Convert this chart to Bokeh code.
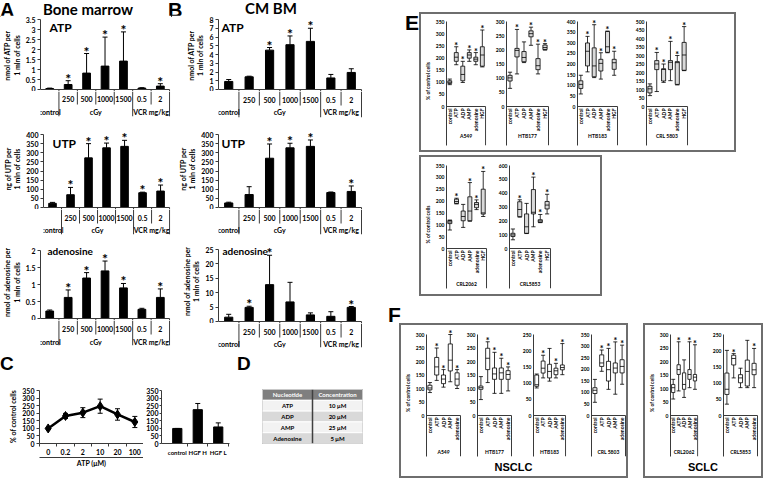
import math
from bokeh.plotting import figure
from bokeh.layouts import row, column
from bokeh.models import (Range1d, FixedTicker, Label, LinearAxis, Spacer, Div,
                          NumeralTickFormatter)
from bokeh.core.properties import value
from bokeh.embed import file_html
from bokeh.resources import INLINE

# ---------------- data: panels A / B ----------------
dose_labels = ["", "250", "500", "1000", "1500", "0.5", "2"]
dose_groups = ["control", "cGy", "cGy", "cGy", "cGy", "VCR mg/kg", "VCR mg/kg"]

bm_atp = [0.05, 0.25, 0.82, 1.17, 1.42, 0.07, 0.17]
bm_atp_err = [0.02, 0.19, 0.98, 1.45, 1.46, 0.02, 0.12]
bm_atp_sig = [0, 1, 1, 1, 1, 0, 1]
bm_utp = [23, 70, 272, 327, 335, 81, 90]
bm_utp_err = [5, 40, 78, 26, 33, 3, 33]
bm_utp_sig = [0, 1, 1, 1, 1, 1, 1]
bm_ado = [0.22, 0.62, 1.19, 1.40, 0.90, 0.27, 0.62]
bm_ado_err = [0.03, 0.22, 0.16, 0.29, 0.13, 0.03, 0.25]
bm_ado_sig = [0, 1, 1, 1, 1, 0, 1]

cm_atp = [0.92, 1.45, 4.5, 5.12, 5.5, 1.32, 1.95]
cm_atp_err = [0.22, 0.07, 0.3, 1.0, 1.5, 0.4, 0.42]
cm_atp_sig = [0, 0, 1, 1, 1, 0, 0]
cm_utp = [25, 71, 270, 327, 335, 82, 88]
cm_utp_err = [4, 43, 78, 25, 35, 3, 30]
cm_utp_sig = [0, 0, 1, 1, 1, 0, 1]
cm_ado = [1.5, 4.9, 12.8, 6.8, 2.3, 1.8, 4.9]
cm_ado_err = [1.0, 0.4, 10.2, 6.8, 0.7, 1.6, 0.3]
cm_ado_sig = [0, 1, 1, 0, 0, 0, 1]

# ---------------- data: panel C ----------------
atp_doses = ["0", "0.2", "2", "10", "20", "100"]
atp_resp = [100, 183, 205, 248, 193, 143]
atp_resp_err = [3, 17, 33, 47, 38, 37]
hgf_cats = ["control", "HGF H", "HGF L"]
hgf_resp = [100, 225, 110]
hgf_resp_err = [0, 41, 27]

# ---------------- data: panel D ----------------
d_header = ["Nucleotide", "Concentration"]
d_nucleotide = ["ATP", "ADP", "AMP", "Adenosine"]
d_concentration = ["10 \u03bcM", "20 \u03bcM", "25 \u03bcM", "5 \u03bcM"]

# ---------------- data: panels E / F (min, q1, median, q3, max) ----------------
cats_e = ["control", "ATP", "ADP", "AMP", "adenosine", "HGF"]
cats_f = ["control", "ATP", "ADP", "AMP", "adenosine"]

e_a549 = [(90, 95, 100, 106, 113), (172, 186, 203, 222, 246), (99, 106, 132, 166, 186),
          (186, 199, 212, 222, 233), (172, 186, 195, 203, 222), (163, 166, 212, 246, 315)]
e_a549_sig = [0, 1, 1, 1, 1, 1]
e_htb177 = [(64, 90, 101, 110, 121), (115, 175, 198, 205, 272), (155, 158, 173, 194, 228),
            (216, 246, 257, 267, 280), (115, 130, 144, 169, 220), (199, 201, 208, 217, 222)]
e_htb177_sig = [0, 1, 0, 1, 1, 1]
e_htb183 = [(59, 85, 104, 121, 147), (163, 191, 260, 299, 330), (136, 140, 191, 276, 385),
            (129, 167, 203, 222, 253), (253, 255, 281, 353, 355), (147, 175, 206, 222, 260)]
e_htb183_sig = [0, 1, 1, 1, 1, 1]
e_crl5803 = [(64, 80, 104, 119, 133), (88, 217, 250, 270, 318), (142, 150, 218, 222, 250),
             (152, 217, 260, 270, 383), (127, 130, 258, 264, 300), (211, 213, 303, 377, 470)]
e_crl5803_sig = [0, 1, 1, 1, 1, 1]
e_crl2062 = [(78, 105, 112, 118, 120), (188, 190, 198, 208, 212), (89, 117, 135, 158, 186),
             (115, 117, 158, 218, 278), (164, 172, 186, 194, 205), (135, 145, 150, 250, 325)]
e_crl2062_sig = [0, 1, 0, 1, 1, 1]
e_crl5853 = [(63, 87, 98, 110, 141), (227, 230, 282, 338, 352), (108, 110, 157, 250, 326),
             (157, 250, 262, 426, 516), (187, 189, 199, 208, 246), (250, 286, 314, 340, 392)]
e_crl5853_sig = [0, 1, 0, 1, 1, 1]

f_a549 = [(85, 95, 102, 112, 122), (130, 150, 180, 215, 250), (105, 118, 135, 150, 170),
          (125, 165, 205, 265, 300), (100, 112, 135, 158, 170)]
f_a549_sig = [0, 1, 1, 1, 1]
f_htb177 = [(59, 97, 103, 109, 144), (122, 170, 212, 249, 273), (82, 134, 154, 176, 234),
            (82, 134, 158, 176, 212), (91, 134, 152, 166, 180)]
f_htb177_sig = [0, 1, 1, 1, 1]
f_htb183 = [(85, 90, 95, 125, 128), (116, 131, 146, 168, 186), (106, 116, 136, 158, 207),
            (116, 126, 138, 146, 161), (126, 141, 148, 156, 222)]
f_htb183_sig = [0, 1, 0, 1, 1]
f_crl5803 = [(57, 95, 109, 120, 156), (191, 212, 227, 262, 283), (113, 149, 198, 234, 290),
             (92, 184, 205, 227, 318), (135, 184, 212, 241, 304)]
f_crl5803_sig = [0, 1, 1, 1, 1]
f_crl2062 = [(61, 85, 103, 115, 134), (91, 152, 170, 188, 273), (67, 97, 115, 158, 206),
             (103, 134, 152, 170, 273), (97, 128, 142, 152, 262)]
f_crl2062_sig = [0, 1, 0, 1, 1]
f_crl5853 = [(35, 65, 81, 131, 201), (116, 156, 176, 186, 191), (86, 101, 116, 126, 146),
             (86, 91, 136, 171, 232), (86, 126, 141, 161, 207)]
f_crl5853_sig = [0, 1, 0, 0, 1]

# ---------------- geometry helpers ----------------
SX = 763.0 / 779.0
SY = 478.0 / 486.0


def RX(v):
    return int(round(v * SX))


def RY(v):
    return int(round(v * SY))


FONT = "Lato"
LETTER_FONT = "Liberation Sans"
AXIS_C = "#3a3a3a"


def base_fig(W, H, L, R, T, B, xr, yr, xaxis=False, yaxis=True):
    p = figure(width=W, height=H, x_range=xr, y_range=yr,
               x_axis_location=("below" if xaxis else None),
               y_axis_location=("left" if yaxis else None),
               min_border_left=L, min_border_right=R,
               min_border_top=T, min_border_bottom=B,
               toolbar_location=None, output_backend="svg", title=None)
    p.grid.visible = False
    p.outline_line_color = None
    p.border_fill_color = "white"
    p.background_fill_color = "white"
    return p


def style_axis(ax, size, tick_out):
    ax.major_label_text_font = FONT
    ax.major_label_text_font_size = "%spx" % size
    ax.major_label_text_font_style = "bold"
    ax.major_label_text_color = "black"
    ax.major_label_standoff = 2
    ax.major_tick_out = tick_out
    ax.major_tick_in = 0
    ax.minor_tick_out = 0
    ax.minor_tick_in = 0
    ax.axis_line_color = AXIS_C
    ax.major_tick_line_color = AXIS_C if tick_out else None
    ax.minor_tick_line_color = None
    ax.axis_label_text_font = FONT
    ax.axis_label_text_font_size = "%spx" % size
    ax.axis_label_text_font_style = "bold"
    ax.axis_label_text_color = "black"
    ax.axis_label_standoff = 2


def add_text_px(p, fl_px, fb_px, text, x, y, size, font=FONT, align="left"):
    p.add_layout(Label(x=RX(x) - fl_px, y=fb_px - RY(y), x_units="screen", y_units="screen",
                       text=text, text_font=font, text_font_size="%spx" % size,
                       text_font_style="bold", text_align=align, text_baseline="top",
                       text_color="black"))


def strip(x0, x1, y0, y1, items):
    W = RX(x1) - RX(x0)
    H = RY(y1) - RY(y0)
    spans = []
    for (t, x, cap_top, size, fam, align) in items:
        off = 0.13 if fam == LETTER_FONT else 0.17
        top = max(0.0, RY(cap_top) - RY(y0) - off * size)
        left = RX(x) - RX(x0)
        tr = "transform:translateX(-50%);" if align == "center" else ""
        spans.append('<span style="position:absolute;left:%dpx;top:%.1fpx;font-family:\'%s\';'
                     'font-size:%dpx;font-weight:bold;line-height:1;white-space:nowrap;'
                     'color:black;%s">%s</span>' % (left, top, fam, size, tr, t))
    html = '<div style="position:relative;width:%dpx;height:%dpx;">%s</div>' % (W, H, "".join(spans))
    return Div(text=html, width=W, height=H, margin=0)


def text_div(txt, w, h, size, pad_left=0, pad_top=0, align="left"):
    html = ('<div style="width:%dpx;height:%dpx;box-sizing:border-box;padding-left:%dpx;'
            'padding-top:%dpx;font-family:\'Liberation Sans\';font-size:%dpx;font-weight:bold;'
            'line-height:1;text-align:%s;color:black;white-space:nowrap;">%s</div>'
            % (w, h, pad_left, pad_top, size, align, txt))
    return Div(text=html, width=w, height=h, margin=0)


def bar_panel(cx, cy0, cy1, fxr, fy0, zero, fy1, head, ymax, ystep, vals, errs, sig,
              ylabel, bar_w, texts):
    cx0, cx1 = cx
    fx0, fx1 = fxr
    fw = RX(fx1) - RX(fx0)
    W = RX(cx1) - RX(cx0)
    L = RX(fx0) - RX(cx0)
    R = RX(cx1) - RX(fx1) - 1
    zpx = RY(zero)
    dpx = zpx - RY(fy0)
    upp = float(ymax) / dpx
    gap = 2
    n = len(vals)
    xr_end = n * (fw + 1.0) / fw

    # --- data part ---
    H1 = zpx + gap - RY(cy0)
    T1 = RY(fy0) - head - RY(cy0)
    p = base_fig(W, H1, L, R, T1, 0, Range1d(0, xr_end), Range1d(-gap * upp, ymax + head * upp))
    ax = p.yaxis[0]
    nt = int(round(ymax / ystep))
    ax.ticker = FixedTicker(ticks=[round(i * ystep, 4) for i in range(nt + 1)])
    ax.bounds = (0, ymax)
    ax.formatter = NumeralTickFormatter(format="0.[0]")
    style_axis(ax, 7, 3)
    ax.axis_label = ylabel

    xs = [i + 0.5 for i in range(n)]
    tops = [v + e for v, e in zip(vals, errs)]
    p.vbar(x=xs, top=vals, bottom=0, width=bar_w, fill_color="black", line_color="black")
    p.segment(x0=xs, y0=vals, x1=xs, y1=tops, line_color="black", line_width=1)
    p.scatter(x=xs, y=tops, marker="dash", size=5, line_color="black", line_width=1)
    lk = dict(line_color=AXIS_C, line_width=1)
    p.segment(x0=[0], y0=[0], x1=[n], y1=[0], **lk)
    bx = list(range(1, n + 1))
    p.segment(x0=bx, y0=[0] * n, x1=bx, y1=[-gap * upp] * n, **lk)
    fb = zpx + gap
    for (t, x, y, size, font, align) in texts:
        add_text_px(p, RX(fx0), fb, t, x, y, size, font, align)
    sxs = [x for x, s in zip(xs, sig) if s]
    sys_ = [t for t, s in zip(tops, sig) if s]
    p.text(x=sxs, y=sys_, text=["*"] * len(sxs), text_font=value(FONT), text_font_size="14px",
           text_font_style="bold", text_align="center", text_baseline="bottom", y_offset=6)

    # --- category table part (pixel units below the zero line) ---
    H2 = RY(cy1) - fb
    tb = RY(fy1) - zpx
    B2 = RY(cy1) - RY(fy1)
    q = base_fig(W, H2, L, R, 0, B2, Range1d(0, xr_end), Range1d(-tb, -gap), yaxis=False)
    ymid = -(RY(zero + 16) - zpx)
    by1 = []
    for i in range(1, n + 1):
        full = (i == n) or (dose_groups[i - 1] != dose_groups[i])
        by1.append(-tb if full else ymid)
    q.segment(x0=bx, y0=[-gap] * n, x1=bx, y1=by1, **lk)
    ytop = -(RY(zero + 9.5) - zpx)
    ygrp = -(RY(zero + 22.5) - zpx)
    q.text(x=xs, y=[ytop] * n, text=dose_labels, text_font=value(FONT), text_font_size="7px",
           text_font_style="bold", text_align="center", text_baseline="middle")
    gx, gt = [], []
    start = 0
    for i in range(1, n + 1):
        if i == n or dose_groups[i] != dose_groups[start]:
            gx.append((start + i) / 2.0)
            gt.append(dose_groups[start])
            start = i
    q.text(x=gx, y=[ygrp] * len(gx), text=gt, text_font=value(FONT), text_font_size="7px",
           text_font_style="bold", text_align="center", text_baseline="middle")
    return column(p, q)


def box_panel(cx0, cx1, cy0, cy1, frame, stats, sig, cats, name, ymax, ystep, fill, ylabel=None):
    fx0, fx1, fy0, zero, fy1, name_y = frame
    head = 5
    fw = RX(fx1) - RX(fx0)
    W = cx1 - cx0
    H = cy1 - cy0
    L = RX(fx0) - cx0
    R = cx1 - RX(fx1) - 1
    T = RY(fy0) - head - cy0
    B = cy1 - RY(fy1)
    dpx = RY(zero) - RY(fy0)
    bpx = RY(fy1) - RY(zero)
    upp = float(ymax) / dpx
    n = len(cats)
    y0 = -bpx * upp
    p = base_fig(W, H, L, R, T, B, Range1d(0, n * (fw + 1.0) / fw), Range1d(y0, ymax + head * upp))
    ax = p.yaxis[0]
    ax.ticker = FixedTicker(ticks=list(range(0, ymax + 1, ystep)))
    ax.bounds = (y0, ymax)
    style_axis(ax, 5, 0)
    if ylabel:
        ax.axis_label = ylabel

    xs = [i + 0.5 for i in range(n)]
    lo = [s[0] for s in stats]
    q1 = [s[1] for s in stats]
    md = [s[2] for s in stats]
    q3 = [s[3] for s in stats]
    hi = [s[4] for s in stats]
    hw = 0.3
    k = dict(line_color="black", line_width=0.8)
    p.segment(x0=xs, y0=q3, x1=xs, y1=hi, **k)
    p.segment(x0=xs, y0=lo, x1=xs, y1=q1, **k)
    p.vbar(x=xs, bottom=q1, top=q3, width=2 * hw, fill_color=fill, **k)
    p.segment(x0=[x - hw for x in xs], y0=md, x1=[x + hw for x in xs], y1=md, **k)
    cat_px = fw / float(n)
    p.scatter(x=xs + xs, y=lo + hi, marker="dash", size=cat_px * 0.6,
              line_color="black", line_width=0.8)
    sxs = [x for x, s in zip(xs, sig) if s]
    sys_ = [h for h, s in zip(hi, sig) if s]
    p.text(x=sxs, y=sys_, text=["*"] * len(sxs), text_font=value(FONT), text_font_size="9px",
           text_font_style="bold", text_align="center", text_baseline="bottom", y_offset=4)

    lk = dict(line_color=AXIS_C, line_width=1)
    p.segment(x0=[0], y0=[0], x1=[n], y1=[0], **lk)
    p.segment(x0=[n], y0=[y0], x1=[n], y1=[0], **lk)
    p.text(x=xs, y=[-2 * upp] * n, text=cats, angle=math.pi / 2, text_font=value(FONT),
           text_font_size="5px", text_font_style="bold", text_align="right",
           text_baseline="middle")
    p.text(x=[n / 2.0], y=[-(RY(name_y) - RY(zero)) * upp], text=[name], text_font=value(FONT),
           text_font_size="5px", text_font_style="bold", text_align="center",
           text_baseline="middle")
    return p


def boxed(inner, wi, hi, t=2, color="#6e6e6e"):
    st = {"background": color}
    return column(Spacer(width=wi + 2 * t, height=t, styles=st, margin=0),
                  row(Spacer(width=t, height=hi, styles=st, margin=0), inner,
                      Spacer(width=t, height=hi, styles=st, margin=0)),
                  Spacer(width=wi + 2 * t, height=t, styles=st, margin=0))


# ---------------- panels A and B ----------------
strip0 = strip(0, 372, 0, 15, [("A", 0, 3, 20, LETTER_FONT, "left"),
                               ("Bone marrow", 90, 5, 15, FONT, "center"),
                               ("B", 172, 3, 20, LETTER_FONT, "left"),
                               ("CM BM", 277, 4, 15, FONT, "center")])
pA1 = bar_panel((0, 175), 15, 120, (33, 173), 19, 90, 118, 0, 3.5, 0.5,
                bm_atp, bm_atp_err, bm_atp_sig, "nmol of ATP per\n1 mln of cells", 0.42,
                [("ATP", 42, 19, 12, FONT, "left")])
pB1 = bar_panel((175, 372), 15, 120, (223, 369), 19, 90.7, 119, 0, 8, 1,
                cm_atp, cm_atp_err, cm_atp_sig, "nmol of ATP per\n1 mln of cells", 0.4,
                [("ATP", 226, 19, 12, FONT, "left")])
pA2 = bar_panel((0, 175), 120, 240, (33, 173), 136, 210.7, 238, 6, 400, 50,
                bm_utp, bm_utp_err, bm_utp_sig, "ng of UTP per\n1 mln of cells", 0.42,
                [("UTP", 42, 137, 12, FONT, "left")])
pB2 = bar_panel((175, 372), 120, 240, (223, 369), 136.4, 210.7, 238.3, 6, 400, 50,
                cm_utp, cm_utp_err, cm_utp_sig, "ng of UTP per\n1 mln of cells", 0.4,
                [("UTP", 226, 137, 12, FONT, "left")])
pA3 = bar_panel((0, 175), 240, 355, (33, 173), 254, 323.7, 351, 6, 2, 0.5,
                bm_ado, bm_ado_err, bm_ado_sig, "nmol of adenosine per\n1 mln of cells", 0.42,
                [("adenosine", 40, 248, 10, FONT, "left")])
pB3 = bar_panel((175, 372), 240, 355, (223, 369), 253.3, 326.7, 353, 10, 25, 5,
                cm_ado, cm_ado_err, cm_ado_sig, "nmol of adenosine per\n1 mln of cells", 0.4,
                [("adenosine", 227, 248, 10, FONT, "left")])

strip4 = strip(0, 395, 355, 376, [("C", 0, 362, 19, LETTER_FONT, "left"),
                                  ("D", 242, 362, 19, LETTER_FONT, "left")])

# ---------------- panel C (line) ----------------
cy0, cy1 = 376, 486
fx0, fx1, fy0, fy1 = 40, 146, 382, 463
head = 2
upp = 350.0 / (RY(fy1) - RY(fy0))
n_c = len(atp_doses)
pC1 = base_fig(RX(146) - RX(0), RY(cy1) - RY(cy0), RX(fx0) - RX(0), RX(146) - RX(fx1),
               RY(fy0) - head - RY(cy0), RY(cy1) - RY(fy1),
               Range1d(-0.5, n_c - 0.5), Range1d(0, 350 + head * upp), xaxis=True)
ay = pC1.yaxis[0]
ay.ticker = FixedTicker(ticks=list(range(0, 351, 50)))
ay.bounds = (0, 350)
style_axis(ay, 7, 3)
ay.axis_label = "% of control cells"
axx = pC1.xaxis[0]
axx.ticker = FixedTicker(ticks=list(range(n_c)), minor_ticks=[i - 0.5 for i in range(n_c + 1)])
axx.major_label_overrides = {i: lab for i, lab in enumerate(atp_doses)}
style_axis(axx, 7, 0)
axx.minor_tick_out = 3
axx.minor_tick_line_color = AXIS_C
ax2 = LinearAxis(ticker=FixedTicker(ticks=[]), axis_label="ATP (\u03bcM)")
style_axis(ax2, 7, 0)
ax2.axis_label_standoff = 1
pC1.add_layout(ax2, "below")
xs_c = list(range(n_c))
lo_c = [v - e for v, e in zip(atp_resp, atp_resp_err)]
hi_c = [v + e for v, e in zip(atp_resp, atp_resp_err)]
pC1.segment(x0=xs_c, y0=lo_c, x1=xs_c, y1=hi_c, line_color="black", line_width=1)
pC1.scatter(x=xs_c + xs_c, y=lo_c + hi_c, marker="dash", size=5, line_color="black")
pC1.line(x=xs_c, y=atp_resp, line_color="black", line_width=2.5)
pC1.scatter(x=xs_c, y=atp_resp, marker="diamond", size=9, color="black")

# ---------------- panel C (bars) ----------------
fx0, fx1 = 161, 234
n_h = len(hgf_cats)
pC2 = base_fig(RX(240) - RX(146), RY(cy1) - RY(cy0), RX(fx0) - RX(146), RX(240) - RX(fx1),
               RY(fy0) - head - RY(cy0), RY(cy1) - RY(fy1),
               Range1d(-0.77, n_h - 0.45), Range1d(0, 350 + head * upp), xaxis=True)
ay = pC2.yaxis[0]
ay.ticker = FixedTicker(ticks=list(range(0, 351, 50)))
ay.bounds = (0, 350)
style_axis(ay, 7, 2)
ay.major_label_standoff = 1
axx = pC2.xaxis[0]
axx.ticker = FixedTicker(ticks=list(range(n_h)), minor_ticks=[i + 0.5 for i in range(n_h)])
axx.major_label_overrides = {i: lab for i, lab in enumerate(hgf_cats)}
style_axis(axx, 6, 0)
axx.minor_tick_out = 3
axx.minor_tick_line_color = AXIS_C
xs_h = list(range(n_h))
top_h = [v + e for v, e in zip(hgf_resp, hgf_resp_err)]
pC2.vbar(x=xs_h, top=hgf_resp, bottom=0, width=0.45, color="black")
pC2.segment(x0=xs_h, y0=hgf_resp, x1=xs_h, y1=top_h, line_color="black", line_width=1)
pC2.scatter(x=xs_h, y=top_h, marker="dash", size=5, line_color="black")

# ---------------- panel D (table) ----------------
fx0, fx1, fy0, fy1 = 268, 370, 396, 450
n_d = len(d_nucleotide)
pD = base_fig(RX(395) - RX(240), RY(cy1) - RY(cy0), RX(fx0) - RX(240), RX(395) - RX(fx1),
              RY(fy0) - RY(cy0), RY(cy1) - RY(fy1),
              Range1d(0, 2), Range1d(0, n_d + 1), yaxis=False)
pD.outline_line_color = "#9a9a9a"
pD.rect(x=[0.5, 1.5], y=[n_d + 0.5] * 2, width=1, height=1, fill_color="#7f7f7f",
        line_color="white", line_width=1)
row_y = [n_d - 0.5 - i for i in range(n_d)]
row_fill = ["#f2f2f2" if i % 2 == 0 else "#d9d9d9" for i in range(n_d)]
pD.rect(x=[0.5] * n_d + [1.5] * n_d, y=row_y + row_y, width=1, height=1,
        fill_color=row_fill + row_fill, line_color="white", line_width=1)
pD.segment(x0=[1], y0=[0], x1=[1], y1=[n_d + 1], line_color="#404040", line_width=1.5)
pD.text(x=[0.5, 1.5], y=[n_d + 0.5] * 2, text=d_header, text_font=value(FONT),
        text_font_size="6px", text_font_style="bold", text_color="white",
        text_align="center", text_baseline="middle")
pD.text(x=[0.5] * n_d + [1.5] * n_d, y=row_y + row_y, text=d_nucleotide + d_concentration,
        text_font=value(FONT), text_font_size="6px", text_font_style="bold",
        text_align="center", text_baseline="middle")

left = column(strip0, row(pA1, pB1), row(pA2, pB2), row(pA3, pB3), strip4, row(pC1, pC2, pD))

# ---------------- panel E ----------------
YL = "% of control cells"
ox0, ox1, oy0, oy1 = RX(428), RX(751), RY(12), RY(155)
xb = [ox0 + 2, RX(500), RX(575), RX(645), ox1 - 2]
cy_a, cy_b = oy0 + 2, oy1 - 2
fy_e = (21.5, 108, 147, 137)
specs = [(e_a549, e_a549_sig, "A549", 350, 50, (452, 495), YL),
         (e_htb177, e_htb177_sig, "HTB177", 300, 50, (516.7, 560), None),
         (e_htb183, e_htb183_sig, "HTB183", 400, 50, (588, 630), None),
         (e_crl5803, e_crl5803_sig, "CRL 5803", 500, 50, (658, 701), None)]
figs = []
for k, (st, sg, nm, ym, ys, fxx, yl) in enumerate(specs):
    fr = (fxx[0], fxx[1]) + fy_e
    figs.append(box_panel(xb[k], xb[k + 1], cy_a, cy_b, fr, st, sg, cats_e, nm, ym, ys,
                          "#d9d9d9", yl))
add_text_px(figs[-1], RX(658), RY(147), "NSCLC", 710, 16, 10, LETTER_FONT, "left")
boxE_ns = boxed(row(*figs), xb[-1] - xb[0], cy_b - cy_a)

sx0, sx1, sy0, sy1 = RX(428), RX(615), RY(158), RY(301)
xb2 = [sx0 + 2, RX(505), sx1 - 2]
cy2a, cy2b = sy0 + 2, sy1 - 2
fy_s = (167.5, 252.3, 293, 288)
specs2 = [(e_crl2062, e_crl2062_sig, "CRL2062", 350, 50, (453.3, 496.7), YL),
          (e_crl5853, e_crl5853_sig, "CRL5853", 600, 100, (518.3, 561.7), None)]
figs2 = []
for k, (st, sg, nm, ym, ys, fxx, yl) in enumerate(specs2):
    fr = (fxx[0], fxx[1]) + fy_s
    figs2.append(box_panel(xb2[k], xb2[k + 1], cy2a, cy2b, fr, st, sg, cats_e, nm, ym, ys,
                           "#d9d9d9", yl))
add_text_px(figs2[-1], RX(518.3), RY(293), "SCLC", 577, 164, 10, LETTER_FONT, "left")
boxE_sc = boxed(row(*figs2), xb2[-1] - xb2[0], cy2b - cy2a)

RW = RX(779) - RX(395)
divE = text_div("E", ox0 - RX(395), 30, 21, pad_left=RX(413) - RX(395), pad_top=0)
rowE = row(divE, column(boxE_ns, Spacer(width=10, height=sy0 - oy1, margin=0), boxE_sc))

# ---------------- panel F ----------------
fo0, fo1, fq0, fq1 = RX(407), RX(641), RY(328), RY(486)
xf = [fo0 + 2, RX(471), RX(530), RX(585), fo1 - 2]
fcy_a, fcy_b = fq0 + 2, RY(466)
fy_f = (339.3, 421.7, 463.3, 459)
specs3 = [(f_a549, f_a549_sig, "A549", 300, 50, (435, 470), YL),
          (f_htb177, f_htb177_sig, "HTB177", 300, 50, (486.7, 521.7), None),
          (f_htb183, f_htb183_sig, "HTB183", 250, 50, (542, 577), None),
          (f_crl5803, f_crl5803_sig, "CRL 5803", 350, 50, (603, 638), None)]
figs3 = []
for k, (st, sg, nm, ym, ys, fxx, yl) in enumerate(specs3):
    fr = (fxx[0], fxx[1]) + fy_f
    figs3.append(box_panel(xf[k], xf[k + 1], fcy_a, fcy_b, fr, st, sg, cats_f, nm, ym, ys,
                           "white", yl))
inner_w = xf[-1] - xf[0]
inner_h = (fq1 - 2) - fcy_a
lbl_ns = text_div("NSCLC", inner_w, (fq1 - 2) - fcy_b, 11, pad_top=4, align="center")
boxF_ns = boxed(column(row(*figs3), lbl_ns), inner_w, inner_h)

go0, go1 = RX(656), RX(779)
xg = [go0 + 2, RX(718), go1 - 2]
specs4 = [(f_crl2062, f_crl2062_sig, "CRL2062", 300, 50, (677.7, 711.7), YL),
          (f_crl5853, f_crl5853_sig, "CRL5853", 250, 50, (738, 773), None)]
figs4 = []
for k, (st, sg, nm, ym, ys, fxx, yl) in enumerate(specs4):
    fr = (fxx[0], fxx[1]) + fy_f
    figs4.append(box_panel(xg[k], xg[k + 1], fcy_a, fcy_b, fr, st, sg, cats_f, nm, ym, ys,
                           "white", yl))
inner_w4 = xg[-1] - xg[0]
lbl_sc = text_div("SCLC", inner_w4, (fq1 - 2) - fcy_b, 11, pad_top=4, align="center")
boxF_sc = boxed(column(row(*figs4), lbl_sc), inner_w4, inner_h)

divF = text_div("F", RW, fq0 - RY(301), 21, pad_left=RX(396) - RX(395), pad_top=RY(309) - RY(301))
rowF = row(Spacer(width=fo0 - RX(395), height=10, margin=0), boxF_ns,
           Spacer(width=go0 - fo1, height=10, margin=0), boxF_sc)

right = column(Spacer(width=RW, height=oy0, margin=0), rowE, divF, rowF)

root = row(left, right)

with open("out.html", "w", encoding="utf-8") as fh:
    fh.write(file_html(root, INLINE))
